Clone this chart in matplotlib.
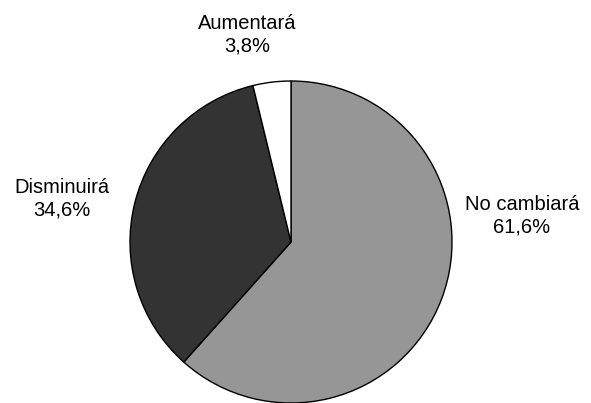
import matplotlib.pyplot as plt

categories = ['No cambiará', 'Disminuirá', 'Aumentará']
values = [61.6, 34.6, 3.8]
colors = ['#969696', '#333333', '#ffffff']

# label centres in pixels (x, y from top)
label_pos = [(522, 216), (62, 199), (247, 35)]

W, H = 591, 403
fig = plt.figure(figsize=(W / 100, H / 100), dpi=100)
plt.rcParams['font.family'] = ['Liberation Sans', 'DejaVu Sans']

cx, cy, r = 291, 242, 161
ax = fig.add_axes([(cx - r) / W, (H - cy - r) / H, 2 * r / W, 2 * r / H])
ax.pie(values, colors=colors, startangle=90, counterclock=False,
       wedgeprops=dict(edgecolor='black', linewidth=1.0))
ax.set_xlim(-1, 1)
ax.set_ylim(-1, 1)
ax.set_aspect('equal')
ax.axis('off')

for name, val, (px, py) in zip(categories, values, label_pos):
    txt = f'{name}\n{val:.1f}%'.replace('.', ',')
    fig.text(px / W, 1 - py / H, txt, ha='center', va='center',
             fontsize=14.5, linespacing=1.25)

fig.savefig('out.png', dpi=100)
